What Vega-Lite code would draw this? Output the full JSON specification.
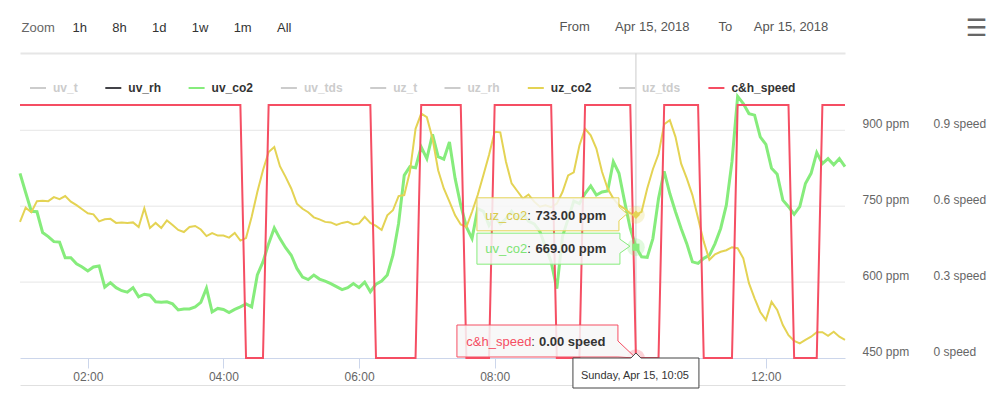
{
  "$schema": "https://vega.github.io/schema/vega-lite/v6.json",
  "width": 825,
  "height": 253,
  "autosize": {"type": "none"},
  "padding": {"left": 20, "top": 105, "right": 159, "bottom": 36},
  "background": "#ffffff",
  "config": {
    "font": "Liberation Sans",
    "view": {"stroke": null},
    "axis": {"labelFont": "Liberation Sans", "titleFont": "Liberation Sans"},
    "legend": {"labelFont": "Liberation Sans", "titleFont": "Liberation Sans"},
    "text": {"font": "Liberation Sans"}
  },
  "datasets": {
    "series": [
      {"time": "2018-04-15T01:00", "uv_co2": 815, "uz_co2": 719, "speed": 1},
      {"time": "2018-04-15T01:05", "uv_co2": 777, "uz_co2": 747, "speed": 1},
      {"time": "2018-04-15T01:10", "uv_co2": 740, "uz_co2": 738, "speed": 1},
      {"time": "2018-04-15T01:15", "uv_co2": 739, "uz_co2": 760, "speed": 1},
      {"time": "2018-04-15T01:20", "uv_co2": 698, "uz_co2": 761, "speed": 1},
      {"time": "2018-04-15T01:25", "uv_co2": 690, "uz_co2": 760, "speed": 1},
      {"time": "2018-04-15T01:30", "uv_co2": 680, "uz_co2": 768, "speed": 1},
      {"time": "2018-04-15T01:35", "uv_co2": 679, "uz_co2": 764, "speed": 1},
      {"time": "2018-04-15T01:40", "uv_co2": 648, "uz_co2": 770, "speed": 1},
      {"time": "2018-04-15T01:45", "uv_co2": 648, "uz_co2": 759, "speed": 1},
      {"time": "2018-04-15T01:50", "uv_co2": 636, "uz_co2": 752, "speed": 1},
      {"time": "2018-04-15T01:55", "uv_co2": 630, "uz_co2": 744, "speed": 1},
      {"time": "2018-04-15T02:00", "uv_co2": 622, "uz_co2": 736, "speed": 1},
      {"time": "2018-04-15T02:05", "uv_co2": 630, "uz_co2": 734, "speed": 1},
      {"time": "2018-04-15T02:10", "uv_co2": 632, "uz_co2": 720, "speed": 1},
      {"time": "2018-04-15T02:15", "uv_co2": 590, "uz_co2": 724, "speed": 1},
      {"time": "2018-04-15T02:20", "uv_co2": 599, "uz_co2": 725, "speed": 1},
      {"time": "2018-04-15T02:25", "uv_co2": 589, "uz_co2": 717, "speed": 1},
      {"time": "2018-04-15T02:30", "uv_co2": 583, "uz_co2": 718, "speed": 1},
      {"time": "2018-04-15T02:35", "uv_co2": 580, "uz_co2": 717, "speed": 1},
      {"time": "2018-04-15T02:40", "uv_co2": 589, "uz_co2": 718, "speed": 1},
      {"time": "2018-04-15T02:45", "uv_co2": 571, "uz_co2": 709, "speed": 1},
      {"time": "2018-04-15T02:50", "uv_co2": 576, "uz_co2": 746, "speed": 1},
      {"time": "2018-04-15T02:55", "uv_co2": 574, "uz_co2": 707, "speed": 1},
      {"time": "2018-04-15T03:00", "uv_co2": 561, "uz_co2": 717, "speed": 1},
      {"time": "2018-04-15T03:05", "uv_co2": 560, "uz_co2": 707, "speed": 1},
      {"time": "2018-04-15T03:10", "uv_co2": 561, "uz_co2": 722, "speed": 1},
      {"time": "2018-04-15T03:15", "uv_co2": 557, "uz_co2": 713, "speed": 1},
      {"time": "2018-04-15T03:20", "uv_co2": 545, "uz_co2": 703, "speed": 1},
      {"time": "2018-04-15T03:25", "uv_co2": 547, "uz_co2": 699, "speed": 1},
      {"time": "2018-04-15T03:30", "uv_co2": 547, "uz_co2": 709, "speed": 1},
      {"time": "2018-04-15T03:35", "uv_co2": 551, "uz_co2": 711, "speed": 1},
      {"time": "2018-04-15T03:40", "uv_co2": 560, "uz_co2": 704, "speed": 1},
      {"time": "2018-04-15T03:45", "uv_co2": 588, "uz_co2": 691, "speed": 1},
      {"time": "2018-04-15T03:50", "uv_co2": 541, "uz_co2": 697, "speed": 1},
      {"time": "2018-04-15T03:55", "uv_co2": 548, "uz_co2": 692, "speed": 1},
      {"time": "2018-04-15T04:00", "uv_co2": 546, "uz_co2": 692, "speed": 1},
      {"time": "2018-04-15T04:05", "uv_co2": 540, "uz_co2": 688, "speed": 1},
      {"time": "2018-04-15T04:10", "uv_co2": 546, "uz_co2": 697, "speed": 1},
      {"time": "2018-04-15T04:15", "uv_co2": 551, "uz_co2": 682, "speed": 1},
      {"time": "2018-04-15T04:20", "uv_co2": 557, "uz_co2": 687, "speed": 0},
      {"time": "2018-04-15T04:25", "uv_co2": 551, "uz_co2": 729, "speed": 0},
      {"time": "2018-04-15T04:30", "uv_co2": 614, "uz_co2": 778, "speed": 0},
      {"time": "2018-04-15T04:35", "uv_co2": 640, "uz_co2": 821, "speed": 0},
      {"time": "2018-04-15T04:40", "uv_co2": 676, "uz_co2": 857, "speed": 1},
      {"time": "2018-04-15T04:45", "uv_co2": 707, "uz_co2": 867, "speed": 1},
      {"time": "2018-04-15T04:50", "uv_co2": 686, "uz_co2": 829, "speed": 1},
      {"time": "2018-04-15T04:55", "uv_co2": 668, "uz_co2": 808, "speed": 1},
      {"time": "2018-04-15T05:00", "uv_co2": 653, "uz_co2": 785, "speed": 1},
      {"time": "2018-04-15T05:05", "uv_co2": 627, "uz_co2": 755, "speed": 1},
      {"time": "2018-04-15T05:10", "uv_co2": 610, "uz_co2": 745, "speed": 1},
      {"time": "2018-04-15T05:15", "uv_co2": 605, "uz_co2": 738, "speed": 1},
      {"time": "2018-04-15T05:20", "uv_co2": 614, "uz_co2": 728, "speed": 1},
      {"time": "2018-04-15T05:25", "uv_co2": 606, "uz_co2": 724, "speed": 1},
      {"time": "2018-04-15T05:30", "uv_co2": 602, "uz_co2": 719, "speed": 1},
      {"time": "2018-04-15T05:35", "uv_co2": 597, "uz_co2": 718, "speed": 1},
      {"time": "2018-04-15T05:40", "uv_co2": 591, "uz_co2": 713, "speed": 1},
      {"time": "2018-04-15T05:45", "uv_co2": 585, "uz_co2": 717, "speed": 1},
      {"time": "2018-04-15T05:50", "uv_co2": 589, "uz_co2": 719, "speed": 1},
      {"time": "2018-04-15T05:55", "uv_co2": 597, "uz_co2": 714, "speed": 1},
      {"time": "2018-04-15T06:00", "uv_co2": 589, "uz_co2": 716, "speed": 1},
      {"time": "2018-04-15T06:05", "uv_co2": 600, "uz_co2": 729, "speed": 1},
      {"time": "2018-04-15T06:10", "uv_co2": 581, "uz_co2": 717, "speed": 1},
      {"time": "2018-04-15T06:15", "uv_co2": 596, "uz_co2": 711, "speed": 0},
      {"time": "2018-04-15T06:20", "uv_co2": 602, "uz_co2": 703, "speed": 0},
      {"time": "2018-04-15T06:25", "uv_co2": 614, "uz_co2": 732, "speed": 0},
      {"time": "2018-04-15T06:30", "uv_co2": 653, "uz_co2": 742, "speed": 0},
      {"time": "2018-04-15T06:35", "uv_co2": 716, "uz_co2": 770, "speed": 0},
      {"time": "2018-04-15T06:40", "uv_co2": 811, "uz_co2": 772, "speed": 0},
      {"time": "2018-04-15T06:45", "uv_co2": 828, "uz_co2": 818, "speed": 0},
      {"time": "2018-04-15T06:50", "uv_co2": 826, "uz_co2": 903, "speed": 0},
      {"time": "2018-04-15T06:55", "uv_co2": 867, "uz_co2": 933, "speed": 1},
      {"time": "2018-04-15T07:00", "uv_co2": 844, "uz_co2": 926, "speed": 1},
      {"time": "2018-04-15T07:05", "uv_co2": 892, "uz_co2": 884, "speed": 1},
      {"time": "2018-04-15T07:10", "uv_co2": 848, "uz_co2": 821, "speed": 1},
      {"time": "2018-04-15T07:15", "uv_co2": 843, "uz_co2": 785, "speed": 1},
      {"time": "2018-04-15T07:20", "uv_co2": 877, "uz_co2": 759, "speed": 1},
      {"time": "2018-04-15T07:25", "uv_co2": 805, "uz_co2": 732, "speed": 1},
      {"time": "2018-04-15T07:30", "uv_co2": 752, "uz_co2": 714, "speed": 1},
      {"time": "2018-04-15T07:35", "uv_co2": 709, "uz_co2": 709, "speed": 0},
      {"time": "2018-04-15T07:40", "uv_co2": 686, "uz_co2": 739, "speed": 0},
      {"time": "2018-04-15T07:45", "uv_co2": 745, "uz_co2": 772, "speed": 0},
      {"time": "2018-04-15T07:50", "uv_co2": 740, "uz_co2": 811, "speed": 0},
      {"time": "2018-04-15T07:55", "uv_co2": 712, "uz_co2": 851, "speed": 0},
      {"time": "2018-04-15T08:00", "uv_co2": 730, "uz_co2": 897, "speed": 1},
      {"time": "2018-04-15T08:05", "uv_co2": 715, "uz_co2": 896, "speed": 1},
      {"time": "2018-04-15T08:10", "uv_co2": 725, "uz_co2": 838, "speed": 1},
      {"time": "2018-04-15T08:15", "uv_co2": 740, "uz_co2": 795, "speed": 1},
      {"time": "2018-04-15T08:20", "uv_co2": 725, "uz_co2": 780, "speed": 1},
      {"time": "2018-04-15T08:25", "uv_co2": 735, "uz_co2": 765, "speed": 1},
      {"time": "2018-04-15T08:30", "uv_co2": 720, "uz_co2": 773, "speed": 1},
      {"time": "2018-04-15T08:35", "uv_co2": 715, "uz_co2": 759, "speed": 1},
      {"time": "2018-04-15T08:40", "uv_co2": 700, "uz_co2": 749, "speed": 1},
      {"time": "2018-04-15T08:45", "uv_co2": 670, "uz_co2": 752, "speed": 1},
      {"time": "2018-04-15T08:50", "uv_co2": 640, "uz_co2": 748, "speed": 1},
      {"time": "2018-04-15T08:55", "uv_co2": 587, "uz_co2": 755, "speed": 0},
      {"time": "2018-04-15T09:00", "uv_co2": 690, "uz_co2": 778, "speed": 0},
      {"time": "2018-04-15T09:05", "uv_co2": 725, "uz_co2": 811, "speed": 0},
      {"time": "2018-04-15T09:10", "uv_co2": 760, "uz_co2": 817, "speed": 0},
      {"time": "2018-04-15T09:15", "uv_co2": 755, "uz_co2": 870, "speed": 0},
      {"time": "2018-04-15T09:20", "uv_co2": 775, "uz_co2": 903, "speed": 1},
      {"time": "2018-04-15T09:25", "uv_co2": 790, "uz_co2": 890, "speed": 1},
      {"time": "2018-04-15T09:30", "uv_co2": 772, "uz_co2": 864, "speed": 1},
      {"time": "2018-04-15T09:35", "uv_co2": 778, "uz_co2": 818, "speed": 1},
      {"time": "2018-04-15T09:40", "uv_co2": 780, "uz_co2": 785, "speed": 1},
      {"time": "2018-04-15T09:45", "uv_co2": 838, "uz_co2": 765, "speed": 1},
      {"time": "2018-04-15T09:50", "uv_co2": 815, "uz_co2": 752, "speed": 1},
      {"time": "2018-04-15T09:55", "uv_co2": 759, "uz_co2": 745, "speed": 1},
      {"time": "2018-04-15T10:00", "uv_co2": 706, "uz_co2": 736, "speed": 1},
      {"time": "2018-04-15T10:05", "uv_co2": 669, "uz_co2": 733, "speed": 0},
      {"time": "2018-04-15T10:10", "uv_co2": 650, "uz_co2": 739, "speed": 0},
      {"time": "2018-04-15T10:15", "uv_co2": 649, "uz_co2": 785, "speed": 0},
      {"time": "2018-04-15T10:20", "uv_co2": 686, "uz_co2": 823, "speed": 0},
      {"time": "2018-04-15T10:25", "uv_co2": 765, "uz_co2": 853, "speed": 0},
      {"time": "2018-04-15T10:30", "uv_co2": 819, "uz_co2": 912, "speed": 1},
      {"time": "2018-04-15T10:35", "uv_co2": 775, "uz_co2": 920, "speed": 1},
      {"time": "2018-04-15T10:40", "uv_co2": 739, "uz_co2": 887, "speed": 1},
      {"time": "2018-04-15T10:45", "uv_co2": 706, "uz_co2": 834, "speed": 1},
      {"time": "2018-04-15T10:50", "uv_co2": 676, "uz_co2": 805, "speed": 1},
      {"time": "2018-04-15T10:55", "uv_co2": 640, "uz_co2": 772, "speed": 1},
      {"time": "2018-04-15T11:00", "uv_co2": 637, "uz_co2": 726, "speed": 1},
      {"time": "2018-04-15T11:05", "uv_co2": 647, "uz_co2": 680, "speed": 0},
      {"time": "2018-04-15T11:10", "uv_co2": 653, "uz_co2": 644, "speed": 0},
      {"time": "2018-04-15T11:15", "uv_co2": 676, "uz_co2": 655, "speed": 0},
      {"time": "2018-04-15T11:20", "uv_co2": 706, "uz_co2": 660, "speed": 0},
      {"time": "2018-04-15T11:25", "uv_co2": 752, "uz_co2": 663, "speed": 0},
      {"time": "2018-04-15T11:30", "uv_co2": 838, "uz_co2": 669, "speed": 0},
      {"time": "2018-04-15T11:35", "uv_co2": 967, "uz_co2": 667, "speed": 1},
      {"time": "2018-04-15T11:40", "uv_co2": 953, "uz_co2": 647, "speed": 1},
      {"time": "2018-04-15T11:45", "uv_co2": 933, "uz_co2": 598, "speed": 1},
      {"time": "2018-04-15T11:50", "uv_co2": 930, "uz_co2": 568, "speed": 1},
      {"time": "2018-04-15T11:55", "uv_co2": 887, "uz_co2": 541, "speed": 1},
      {"time": "2018-04-15T12:00", "uv_co2": 872, "uz_co2": 525, "speed": 1},
      {"time": "2018-04-15T12:05", "uv_co2": 825, "uz_co2": 561, "speed": 1},
      {"time": "2018-04-15T12:10", "uv_co2": 813, "uz_co2": 545, "speed": 1},
      {"time": "2018-04-15T12:15", "uv_co2": 762, "uz_co2": 515, "speed": 1},
      {"time": "2018-04-15T12:20", "uv_co2": 749, "uz_co2": 495, "speed": 1},
      {"time": "2018-04-15T12:25", "uv_co2": 734, "uz_co2": 484, "speed": 0},
      {"time": "2018-04-15T12:30", "uv_co2": 749, "uz_co2": 479, "speed": 0},
      {"time": "2018-04-15T12:35", "uv_co2": 795, "uz_co2": 486, "speed": 0},
      {"time": "2018-04-15T12:40", "uv_co2": 815, "uz_co2": 492, "speed": 0},
      {"time": "2018-04-15T12:45", "uv_co2": 856, "uz_co2": 501, "speed": 0},
      {"time": "2018-04-15T12:50", "uv_co2": 834, "uz_co2": 501, "speed": 1},
      {"time": "2018-04-15T12:55", "uv_co2": 844, "uz_co2": 494, "speed": 1},
      {"time": "2018-04-15T13:00", "uv_co2": 832, "uz_co2": 502, "speed": 1},
      {"time": "2018-04-15T13:05", "uv_co2": 844, "uz_co2": 492, "speed": 1},
      {"time": "2018-04-15T13:10", "uv_co2": 828, "uz_co2": 486, "speed": 1}
    ],
    "hover": [
      {"time": "2018-04-15T10:05", "series": "uz_co2", "value": 733, "label": "733.00 ppm", "header": ""},
      {"time": "2018-04-15T10:05", "series": "uv_co2", "value": 669, "label": "669.00 ppm", "header": ""},
      {"time": "2018-04-15T10:05", "series": "c&h_speed", "value": 0, "label": "0.00 speed", "header": "Sunday, Apr 15, 10:05"}
    ],
    "cursor": [{"time": "2018-04-15T10:05"}],
    "grid": [{"ppm": 600}, {"ppm": 750}, {"ppm": 900}]
  },
  "layer": [
    {
      "data": {"name": "grid"},
      "mark": {"type": "rule", "color": "#e6e6e6", "strokeWidth": 1},
      "encoding": {
        "y": {
          "field": "ppm", "type": "quantitative", "scale": {"domain": [450, 950], "nice": false, "zero": false},
          "axis": {
            "orient": "right", "values": [450, 600, 750, 900], "labelExpr": "datum.value + ' ppm'",
            "ticks": false, "domain": false, "grid": false,
            "labelAlign": "left", "labelPadding": 17, "labelFontSize": 12, "labelColor": "#666666",
            "labelBaseline": "middle", "labelOffset": -7,
            "title": "1h\u00a0\u00a0\u00a0\u00a0\u00a0\u00a0\u00a08h\u00a0\u00a0\u00a0\u00a0\u00a0\u00a0\u00a01d\u00a0\u00a0\u00a0\u00a0\u00a0\u00a0\u00a01w\u00a0\u00a0\u00a0\u00a0\u00a0\u00a0\u00a01m\u00a0\u00a0\u00a0\u00a0\u00a0\u00a0\u00a0All",
            "titleAngle": 0, "titleX": -773, "titleY": -78, "titleAlign": "left", "titleBaseline": "middle",
            "titleFontSize": 13, "titleFontWeight": "normal", "titleColor": "#333333"
          }
        }
      }
    },
    {
      "data": {"name": "cursor"},
      "mark": {"type": "rule", "color": "#cccccc", "strokeWidth": 1},
      "encoding": {
        "x": {
          "field": "time", "type": "temporal",
          "axis": {
            "orient": "bottom", "format": "%H:%M",
            "values": [
              {"year": 2018, "month": 4, "date": 15, "hours": 2},
              {"year": 2018, "month": 4, "date": 15, "hours": 4},
              {"year": 2018, "month": 4, "date": 15, "hours": 6},
              {"year": 2018, "month": 4, "date": 15, "hours": 8},
              {"year": 2018, "month": 4, "date": 15, "hours": 12}
            ],
            "labelFontSize": 12, "labelColor": "#666666", "labelFlush": false, "labelPadding": 3,
            "tickSize": 10, "tickColor": "#ccd6eb", "domainColor": "#ccd6eb", "grid": false,
            "title": "Zoom", "titleX": 1, "titleY": -331, "titleAlign": "left", "titleBaseline": "middle",
            "titleAngle": 0, "titleFontSize": 13, "titleFontWeight": "normal", "titleColor": "#666666"
          }
        },
        "y": {"datum": 450, "type": "quantitative", "scale": {"domain": [450, 950], "nice": false, "zero": false}, "axis": null},
        "y2": {"datum": 1052}
      }
    },
    {
      "data": {"name": "series"},
      "mark": {"type": "line", "strokeWidth": 3, "clip": false},
      "encoding": {
        "x": {
          "field": "time", "type": "temporal",
          "scale": {"domain": [{"year": 2018, "month": 4, "date": 15, "hours": 1}, {"year": 2018, "month": 4, "date": 15, "hours": 13, "minutes": 10}], "nice": false},
          "axis": null
        },
        "y": {
          "field": "uv_co2", "type": "quantitative",
          "scale": {"domain": [450, 950], "nice": false, "zero": false},
          "axis": null
        },
        "color": {
          "datum": "uv_co2",
          "scale": {
            "domain": ["uv_t", "uv_rh", "uv_co2", "uv_tds", "uz_t", "uz_rh", "uz_co2", "uz_tds", "c&h_speed"],
            "range": ["#cccccc", "#434348", "#86ec7c", "#cccccc", "#cccccc", "#cccccc", "#e4d354", "#cccccc", "#f54e63"]
          },
          "legend": {
            "orient": "none", "legendX": 9, "legendY": -26, "direction": "horizontal", "title": null,
            "symbolType": "stroke", "symbolSize": 256, "symbolStrokeWidth": 2,
            "labelFontSize": 12, "labelFontWeight": "bold", "labelColor": "#333333",
            "columnPadding": 23.3, "labelOffset": 6, "padding": 0,
            "encode": {"labels": {"update": {"fill": {"signal": "indexof(['uv_t','uv_tds','uz_t','uz_rh','uz_tds'], datum.value) >= 0 ? '#cccccc' : '#333333'"}}}}
          }
        }
      }
    },
    {
      "data": {"name": "series"},
      "mark": {"type": "line", "strokeWidth": 2, "color": "#e4d354"},
      "encoding": {
        "x": {"field": "time", "type": "temporal", "axis": null},
        "y": {"field": "uz_co2", "type": "quantitative", "scale": {"domain": [450, 950], "nice": false, "zero": false}, "axis": null}
      }
    },
    {
      "data": {"name": "series"},
      "mark": {"type": "line", "strokeWidth": 2, "color": "#f54e63"},
      "encoding": {
        "x": {
          "field": "time", "type": "temporal",
          "axis": {
            "orient": "top", "offset": 52, "labels": false, "ticks": false, "grid": false,
            "domainColor": "#e6e6e6", "domainWidth": 2,
            "title": "From\u00a0\u00a0\u00a0\u00a0\u00a0\u00a0\u00a0Apr 15, 2018\u00a0\u00a0\u00a0\u00a0\u00a0\u00a0\u00a0\u00a0To\u00a0\u00a0\u00a0\u00a0\u00a0\u00a0Apr 15, 2018",
            "titleX": 539, "titleY": -27, "titleAlign": "left", "titleBaseline": "middle", "titleAngle": 0,
            "titleFontSize": 13, "titleFontWeight": "normal", "titleColor": "#555555"
          }
        },
        "y": {
          "field": "speed", "type": "quantitative",
          "scale": {"domain": [0, 1], "nice": false, "zero": false},
          "axis": {
            "orient": "right", "offset": 71, "values": [0, 0.3, 0.6, 0.9], "labelExpr": "datum.value + ' speed'",
            "ticks": false, "domain": false, "grid": false,
            "labelAlign": "left", "labelPadding": 17, "labelFontSize": 12, "labelColor": "#666666",
            "labelBaseline": "middle", "labelOffset": -7,
            "title": "\u2630", "titleAngle": 0, "titleX": 60, "titleY": -76.5, "titleAlign": "center", "titleBaseline": "middle",
            "titleFontSize": 24, "titleFontWeight": "normal", "titleColor": "#666666", "titleFont": "DejaVu Sans"
          }
        }
      }
    },
    {
      "data": {"name": "hover"},
      "transform": [{"filter": "datum.series != 'c&h_speed'"}],
      "encoding": {
        "x": {
          "field": "time", "type": "temporal",
          "axis": {"orient": "bottom", "offset": 27, "labels": false, "ticks": false, "grid": false, "domainColor": "#e0e0e0", "title": null}
        },
        "y": {"field": "value", "type": "quantitative", "scale": {"domain": [450, 950], "nice": false, "zero": false}, "axis": null}
      },
      "layer": [
        {"transform": [{"filter": "datum.series == 'uz_co2'"}], "mark": {"type": "point", "filled": true, "size": 314, "color": "#e4d354", "opacity": 0.25, "strokeWidth": 0}},
        {"transform": [{"filter": "datum.series == 'uv_co2'"}], "mark": {"type": "point", "filled": true, "size": 314, "color": "#86ec7c", "opacity": 0.25, "strokeWidth": 0}},
        {"transform": [{"filter": "datum.series == 'uz_co2'"}], "mark": {"type": "point", "shape": "diamond", "filled": true, "size": 70, "color": "#e4d354", "opacity": 1}},
        {"transform": [{"filter": "datum.series == 'uv_co2'"}], "mark": {"type": "point", "shape": "square", "filled": true, "size": 50, "color": "#86ec7c", "opacity": 1}},
        {"transform": [{"filter": "datum.series == 'uz_co2'"}], "mark": {"type": "point", "shape": "M-159,-17H-17V-8L-9,-1L-17,6V16H-159Z", "size": 4, "filled": true, "fill": "#f7f7f7", "fillOpacity": 0.85, "stroke": "#e4d354", "strokeWidth": 1, "opacity": 1}},
        {"transform": [{"filter": "datum.series == 'uv_co2'"}], "mark": {"type": "point", "shape": "M-159,-14H-16V-8L-6,-1L-16,6V17H-159Z", "size": 4, "filled": true, "fill": "#f7f7f7", "fillOpacity": 0.85, "stroke": "#86ec7c", "strokeWidth": 1, "opacity": 1}},
        {
          "mark": {"type": "text", "align": "left", "baseline": "middle", "dx": -150.6, "dy": 1.5, "fontSize": 13},
          "encoding": {"text": {"field": "series"}, "color": {"condition": {"test": "datum.series == 'uz_co2'", "value": "#d9c84a"}, "value": "#7ee474"}}
        },
        {"mark": {"type": "text", "text": ":", "align": "left", "baseline": "middle", "dx": -108.7, "dy": 1.5, "fontSize": 13, "color": "#333333"}},
        {
          "mark": {"type": "text", "align": "left", "baseline": "middle", "dx": -100.5, "dy": 1.5, "fontSize": 13, "fontWeight": "bold", "color": "#333333"},
          "encoding": {"text": {"field": "label"}}
        }
      ]
    },
    {
      "data": {"name": "hover"},
      "transform": [{"filter": "datum.series == 'c&h_speed'"}],
      "encoding": {
        "x": {"field": "time", "type": "temporal", "axis": null},
        "y": {"field": "value", "type": "quantitative", "scale": {"domain": [0, 1], "nice": false, "zero": false}, "axis": null}
      },
      "layer": [
        {"mark": {"type": "point", "filled": true, "size": 314, "color": "#f54e63", "opacity": 0.25, "strokeWidth": 0}},
        {"mark": {"type": "point", "shape": "M-179,-33H-18V-17L0,0L-18,-1H-179Z", "size": 4, "filled": true, "fill": "#f7f7f7", "fillOpacity": 0.85, "stroke": "#f54e63", "strokeWidth": 1, "opacity": 1}},
        {
          "mark": {"type": "text", "align": "left", "baseline": "middle", "dx": -169.6, "dy": -16.3, "fontSize": 13, "color": "#f54e63"},
          "encoding": {"text": {"field": "series"}}
        },
        {"mark": {"type": "text", "text": ":", "align": "left", "baseline": "middle", "dx": -104.6, "dy": -16.3, "fontSize": 13, "color": "#333333"}},
        {
          "mark": {"type": "text", "align": "left", "baseline": "middle", "dx": -97, "dy": -16.3, "fontSize": 13, "fontWeight": "bold", "color": "#333333"},
          "encoding": {"text": {"field": "label"}}
        },
        {"mark": {"type": "point", "shape": "M-63,0H-5L0,-5L5,0H63V30H-63Z", "size": 4, "filled": true, "fill": "#ffffff", "stroke": "#444444", "strokeWidth": 1, "opacity": 1}},
        {
          "mark": {"type": "text", "align": "center", "baseline": "middle", "dx": -1, "dy": 18, "fontSize": 11, "color": "#333333"},
          "encoding": {"text": {"field": "header"}}
        }
      ]
    }
  ],
  "resolve": {"scale": {"y": "independent"}, "axis": {"x": "independent", "y": "independent"}}
}
